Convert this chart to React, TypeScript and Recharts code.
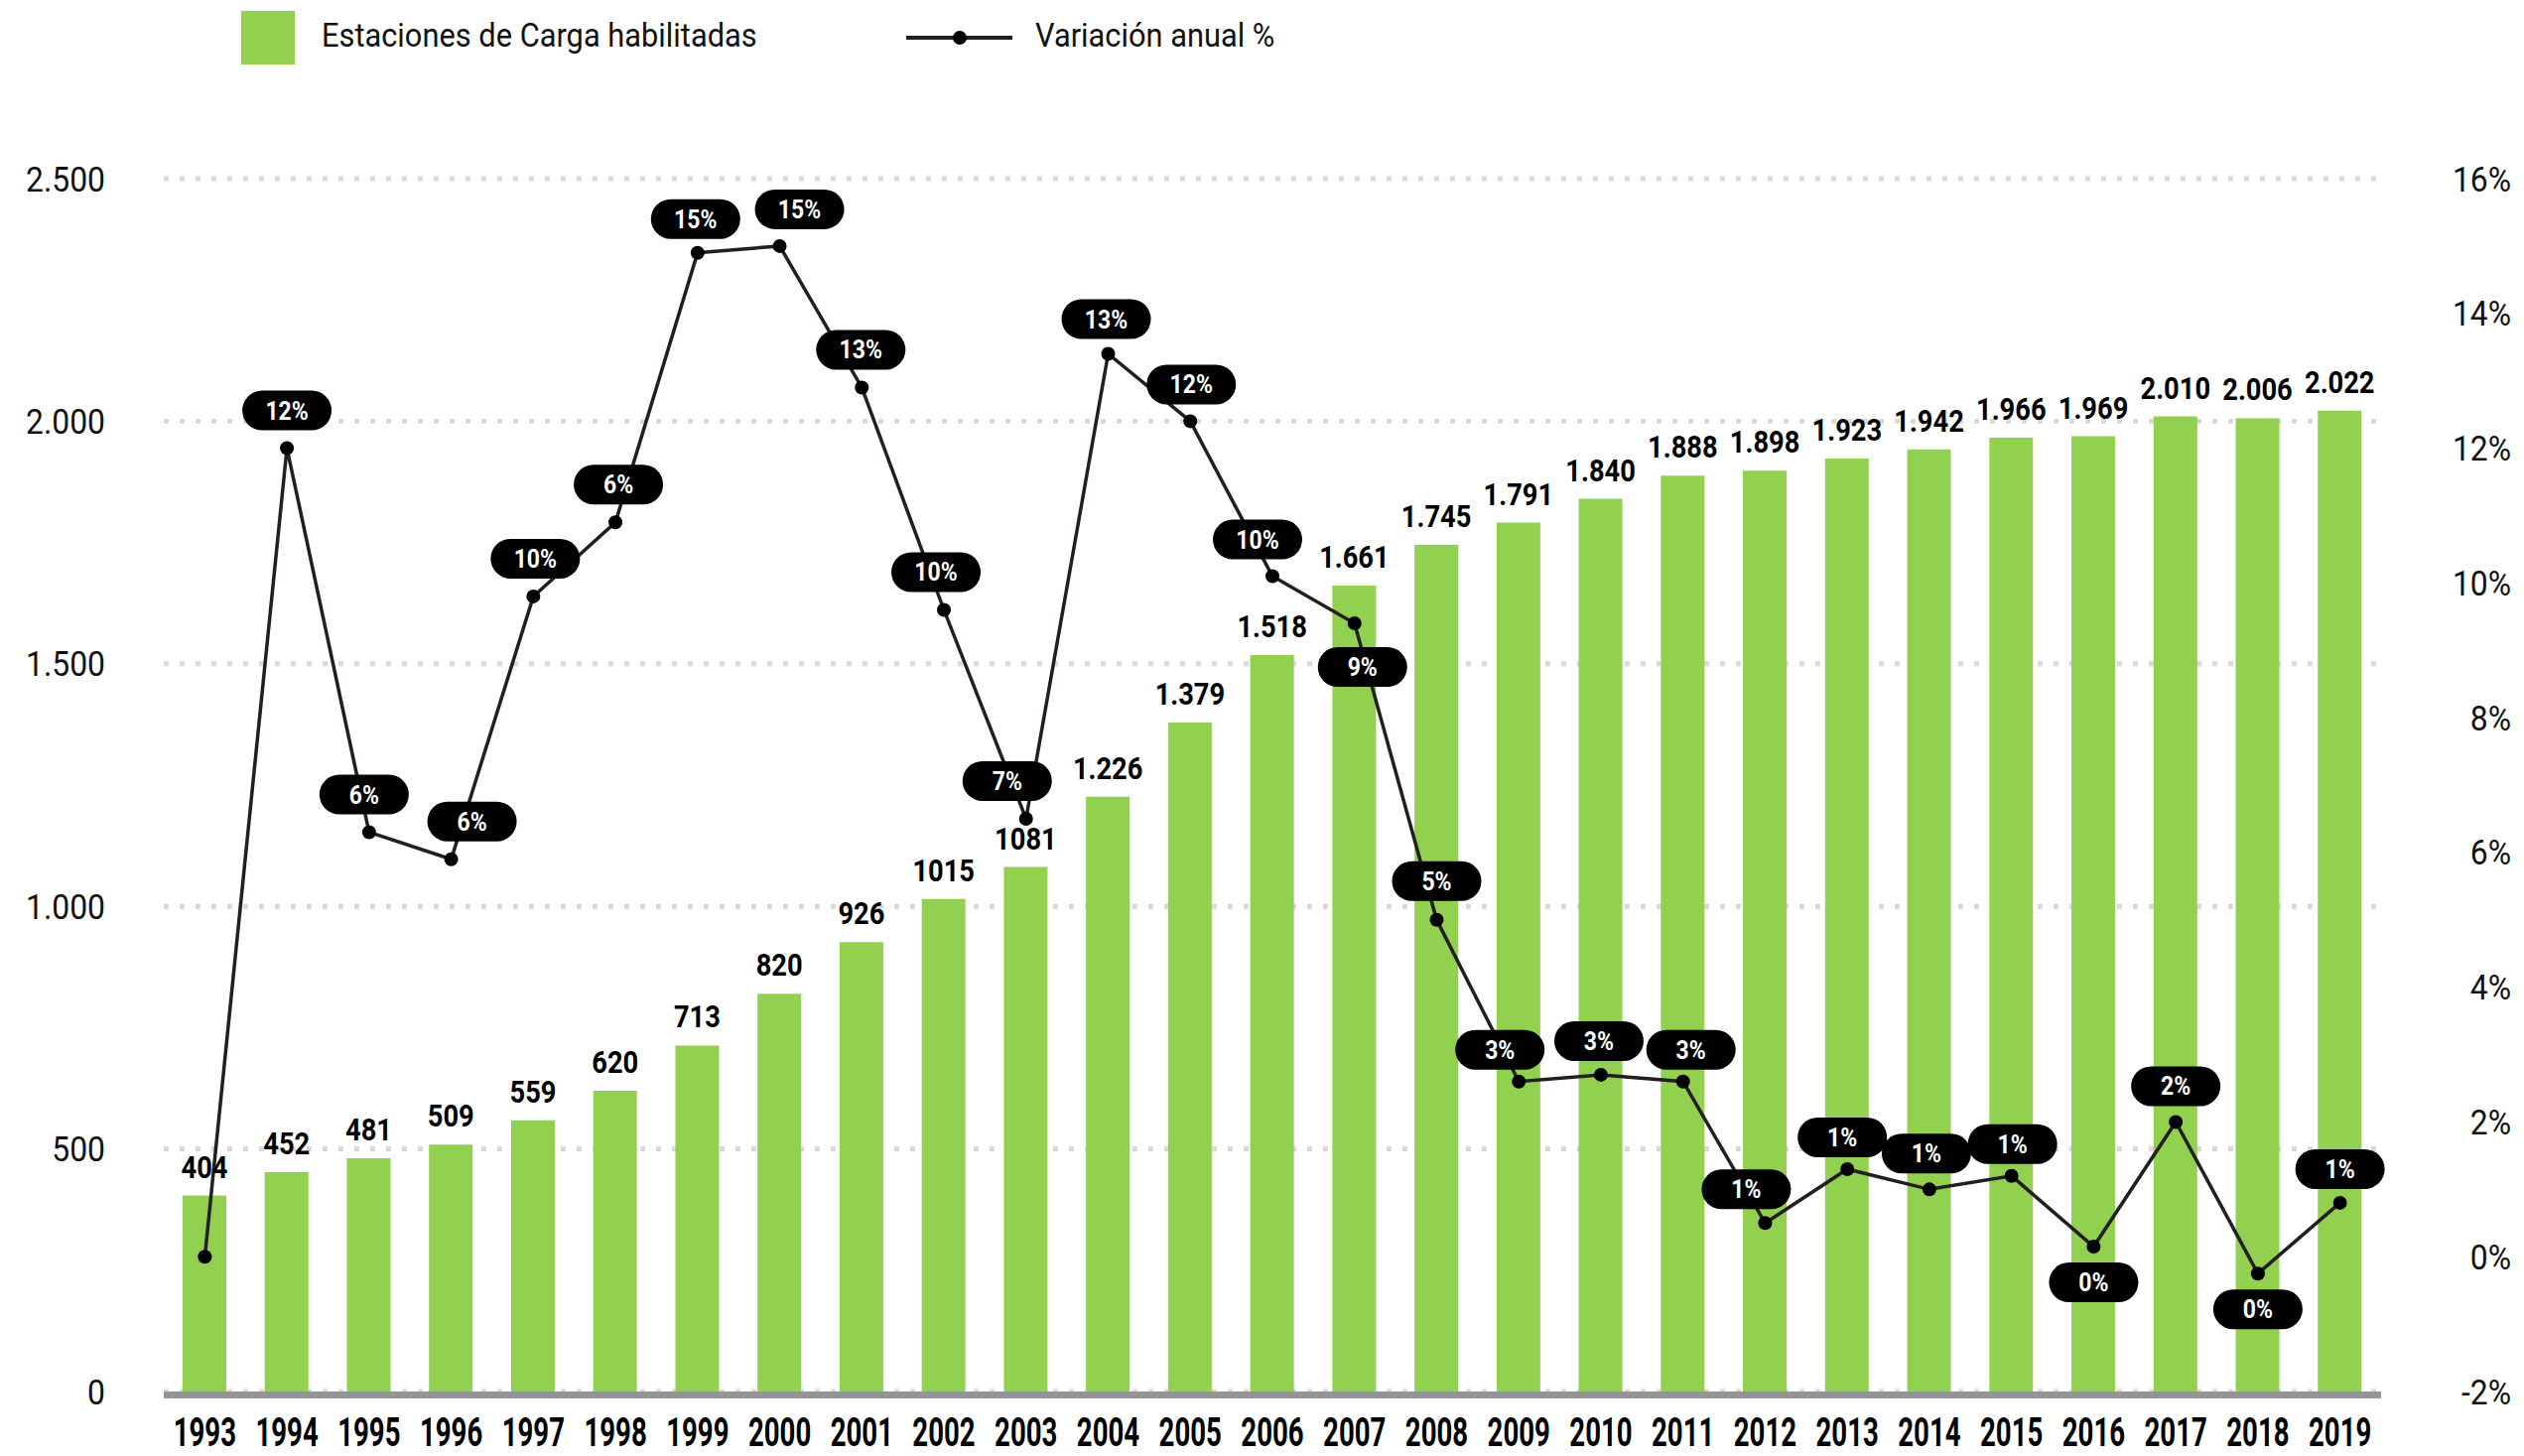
import React from "react";
import {
  ComposedChart,
  Bar,
  Line,
  XAxis,
  YAxis,
  CartesianGrid,
  LabelList,
} from "recharts";

const years = [
  "1993", "1994", "1995", "1996", "1997", "1998", "1999", "2000", "2001",
  "2002", "2003", "2004", "2005", "2006", "2007", "2008", "2009", "2010",
  "2011", "2012", "2013", "2014", "2015", "2016", "2017", "2018", "2019",
];

const stations = [
  404, 452, 481, 509, 559, 620, 713, 820, 926, 1015, 1081, 1226, 1379, 1518,
  1661, 1745, 1791, 1840, 1888, 1898, 1923, 1942, 1966, 1969, 2010, 2006, 2022,
];

const stationLabels = [
  "404", "452", "481", "509", "559", "620", "713", "820", "926", "1015",
  "1081", "1.226", "1.379", "1.518", "1.661", "1.745", "1.791", "1.840",
  "1.888", "1.898", "1.923", "1.942", "1.966", "1.969", "2.010", "2.006",
  "2.022",
];

const variation = [
  0.0, 12.0, 6.3, 5.9, 9.8, 10.9, 14.9, 15.0, 12.9, 9.6, 6.5, 13.4, 12.4,
  10.1, 9.4, 5.0, 2.6, 2.7, 2.6, 0.5, 1.3, 1.0, 1.2, 0.15, 2.0, -0.25, 0.8,
];

const variationLabels = [
  null, "12%", "6%", "6%", "10%", "6%", "15%", "15%", "13%", "10%", "7%",
  "13%", "12%", "10%", "9%", "5%", "3%", "3%", "3%", "1%", "1%", "1%", "1%",
  "0%", "2%", "0%", "1%",
];

const leftTicks = [0, 500, 1000, 1500, 2000, 2500];
const rightTicks = [-2, 0, 2, 4, 6, 8, 10, 12, 14, 16];

// label layout nudges for the percentage pills (dx, dy relative to point)
const pillNudge: [number, number][] = [
  [0, -37], [0, -38], [-5, -38], [21, -38], [2, -38], [3, -38], [-2, -34],
  [20, -37], [-1, -38], [-8, -38], [-19, -38], [-2, -35], [1, -37],
  [-15, -37], [8, 44], [0, -39], [-19, -32], [-2, -34], [8, -32],
  [-19, -34], [-5, -32], [-3, -36], [1, -32], [0, 36], [0, -36], [0, 36],
  [0, -34],
];

const data = years.map((year, i) => ({
  year,
  stations: stations[i],
  stationLabel: stationLabels[i],
  variation: variation[i],
  variationLabel: variationLabels[i],
}));

const GREEN = "#92d050";
const FONT = "Roboto, 'Noto Sans', sans-serif";

const fmtThousands = (v: number) =>
  String(v).replace(/\B(?=(\d{3})+(?!\d))/g, ".");

const XTick = (props: any) => {
  const { x, y, payload } = props;
  return (
    <g transform={`translate(${x},${y + 55})`}>
      <text
        transform="scale(0.69,1)"
        textAnchor="middle"
        fontFamily={FONT}
        fontWeight={700}
        fontSize={40}
        fill="#000"
      >
        {payload.value}
      </text>
    </g>
  );
};

const LeftTick = (props: any) => {
  const { y, payload } = props;
  return (
    <g transform={`translate(106,${y + 12.5})`}>
      <text
        transform="scale(0.91,1)"
        textAnchor="end"
        fontFamily={FONT}
        fontSize={35}
        fill="#111"
      >
        {fmtThousands(payload.value)}
      </text>
    </g>
  );
};

const RightTick = (props: any) => {
  const { x, y, payload } = props;
  return (
    <g transform={`translate(${x + 131},${y + 12.5})`}>
      <text
        transform="scale(0.91,1)"
        textAnchor="end"
        fontFamily={FONT}
        fontSize={35}
        fill="#111"
      >
        {`${payload.value}%`}
      </text>
    </g>
  );
};

const BarValueLabel = (props: any) => {
  const { x, y, width, value } = props;
  if (value == null) return null;
  const cx = Number(x) + Number(width) / 2;
  return (
    <g transform={`translate(${cx},${Number(y) - 18})`}>
      <text
        transform="scale(0.88,1)"
        textAnchor="middle"
        fontFamily={FONT}
        fontWeight={700}
        fontSize={31}
        fill="#000"
      >
        {value}
      </text>
    </g>
  );
};

const PillLabel = (props: any) => {
  const { x, y, value, index } = props;
  if (value == null || value === "") return null;
  const n = pillNudge[index] || [0, -37];
  const cx = Number(x) + n[0];
  const cy = Number(y) + n[1];
  return (
    <g>
      <rect x={cx - 45} y={cy - 20} width={90} height={40} rx={20} ry={20} fill="#000" />
      <g transform={`translate(${cx},${cy + 9})`}>
        <text
          transform="scale(0.92,1)"
          textAnchor="middle"
          fontFamily={FONT}
          fontWeight={700}
          fontSize={25}
          fill="#fff"
        >
          {value}
        </text>
      </g>
    </g>
  );
};

const LegendOverlay = () => (
  <svg
    width={2543}
    height={90}
    style={{ position: "absolute", left: 0, top: 0, pointerEvents: "none" }}
  >
    <rect x={243} y={11} width={54} height={54} fill={GREEN} />
    <g transform="translate(324,47)">
      <text transform="scale(0.92,1)" fontFamily={FONT} fontSize={33.5} fill="#111">
        Estaciones de Carga habilitadas
      </text>
    </g>
    <line x1={913} y1={38} x2={1020} y2={38} stroke="#231f20" strokeWidth={4} />
    <circle cx={967} cy={38} r={7} fill="#000" />
    <g transform="translate(1043,47)">
      <text transform="scale(0.92,1)" fontFamily={FONT} fontSize={33.5} fill="#111">
        Variación anual %
      </text>
    </g>
  </svg>
);

export default function App() {
  return (
    <div
      style={{
        position: "absolute",
        left: 0,
        top: 0,
        width: 2543,
        height: 1467,
        background: "#fff",
      }}
    >
      <ComposedChart
        width={2543}
        height={1467}
        data={data}
        margin={{ top: 180, right: 0, bottom: 0, left: 0 }}
      >
        <CartesianGrid
          yAxisId="l"
          vertical={false}
          stroke="#d9d9d9"
          strokeWidth={5}
          strokeDasharray="5 11"
        />
        <YAxis
          yAxisId="l"
          orientation="left"
          width={165}
          domain={[0, 2500]}
          ticks={leftTicks}
          axisLine={false}
          tickLine={false}
          tickSize={0}
          tickMargin={0}
          tick={<LeftTick />}
          interval={0}
        />
        <YAxis
          yAxisId="r"
          orientation="right"
          width={144}
          domain={[-2, 16]}
          ticks={rightTicks}
          axisLine={false}
          tickLine={false}
          tickSize={0}
          tickMargin={0}
          tick={<RightTick />}
          interval={0}
        />
        <Bar
          yAxisId="l"
          dataKey="stations"
          fill={GREEN}
          barSize={44}
          isAnimationActive={false}
        >
          <LabelList dataKey="stationLabel" content={<BarValueLabel />} />
        </Bar>
        <XAxis
          dataKey="year"
          height={65}
          interval={0}
          tickLine={false}
          tickSize={0}
          tickMargin={0}
          tick={<XTick />}
          axisLine={{ stroke: "#949494", strokeWidth: 7, transform: "translate(0,3.5)" }}
        />
        <Line
          yAxisId="r"
          type="linear"
          dataKey="variation"
          stroke="#231f20"
          strokeWidth={3.5}
          dot={{ r: 7, fill: "#000", stroke: "#000", strokeWidth: 0 }}
          activeDot={false}
          isAnimationActive={false}
        >
          <LabelList dataKey="variationLabel" content={<PillLabel />} />
        </Line>
      </ComposedChart>
      <LegendOverlay />
    </div>
  );
}
